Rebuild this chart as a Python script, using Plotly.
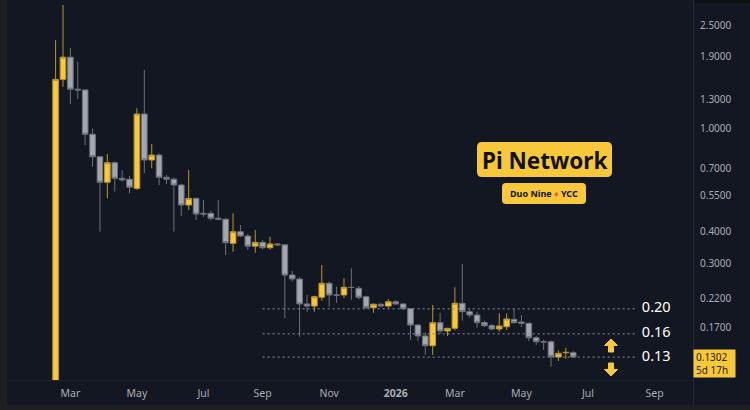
import math
import pandas as pd
import plotly.graph_objects as go

# ---------------- data (weekly candles, Pi Network) ----------------
week_start = "2025-02-17"
n_weeks = 71
dates = pd.date_range(week_start, periods=n_weeks, freq="7D")

opens = [0.07, 1.55, 1.89, 1.42, 1.41, 0.95, 0.777, 0.619, 0.737, 0.641, 0.636, 0.586, 1.138, 0.755,
         0.789, 0.647, 0.636, 0.604, 0.505, 0.536, 0.469, 0.469, 0.449, 0.445, 0.359, 0.398, 0.383,
         0.350, 0.362, 0.345, 0.357, 0.354, 0.2705, 0.261, 0.2089, 0.205, 0.2217, 0.2512, 0.2263,
         0.2263, 0.2423, 0.2402, 0.2229, 0.2020, 0.2083, 0.205, 0.2132, 0.2089, 0.2002, 0.1731,
         0.1570, 0.1439, 0.1768, 0.1641, 0.1681, 0.2101, 0.1950, 0.1893, 0.1768, 0.1720, 0.1671,
         0.1705, 0.1822, 0.1778, 0.1758, 0.1545, 0.1491, 0.1491, 0.1301, 0.1352, 0.1352]
highs = [2.20, 3.01, 2.05, 1.815, 1.42, 1.00, 0.78, 0.796, 0.745, 0.690, 0.654, 1.198, 1.686, 0.871,
         0.80, 0.66, 0.645, 0.61, 0.690, 0.54, 0.528, 0.48, 0.528, 0.45, 0.469, 0.423, 0.39, 0.404,
         0.37, 0.381, 0.36, 0.356, 0.28, 0.265, 0.2263, 0.225, 0.2958, 0.255, 0.2436, 0.2627, 0.2872,
         0.245, 0.225, 0.21, 0.211, 0.218, 0.216, 0.21, 0.201, 0.175, 0.162, 0.2070, 0.1932, 0.167,
         0.2423, 0.2984, 0.20, 0.195, 0.18, 0.175, 0.1922, 0.1922, 0.1997, 0.1893, 0.177, 0.157,
         0.152, 0.151, 0.138, 0.1413, 0.137]
lows = [0.07, 1.45, 1.245, 1.30, 0.863, 0.711, 0.398, 0.536, 0.569, 0.622, 0.561, 0.578, 0.671, 0.701,
        0.604, 0.610, 0.398, 0.458, 0.483, 0.442, 0.455, 0.44, 0.44, 0.323, 0.333, 0.38, 0.338, 0.330,
        0.34, 0.34, 0.35, 0.1838, 0.255, 0.156, 0.195, 0.195, 0.215, 0.2039, 0.2107, 0.22, 0.2164,
        0.218, 0.200, 0.1932, 0.203, 0.202, 0.207, 0.198, 0.1514, 0.150, 0.1325, 0.1325, 0.160, 0.157,
        0.165, 0.18, 0.185, 0.1690, 0.170, 0.165, 0.163, 0.1656, 0.175, 0.17, 0.150, 0.145, 0.1385,
        0.1193, 0.1256, 0.128, 0.129]
closes = [1.55, 1.89, 1.42, 1.41, 0.95, 0.777, 0.619, 0.737, 0.641, 0.632, 0.592, 1.138, 0.755, 0.789,
          0.647, 0.636, 0.604, 0.505, 0.536, 0.466, 0.466, 0.449, 0.445, 0.361, 0.398, 0.383, 0.350,
          0.362, 0.345, 0.357, 0.354, 0.2705, 0.261, 0.2089, 0.205, 0.2229, 0.2512, 0.2263, 0.2260,
          0.2423, 0.2420, 0.2217, 0.2020, 0.2083, 0.205, 0.2132, 0.2089, 0.2002, 0.1731, 0.1570,
          0.1439, 0.1768, 0.1641, 0.1681, 0.2101, 0.1950, 0.1893, 0.1768, 0.1720, 0.1671, 0.1716,
          0.1827, 0.1768, 0.1758, 0.1545, 0.1491, 0.1488, 0.1304, 0.1344, 0.1356, 0.1302]

levels = [0.20, 0.16, 0.13]
level_labels = ["0.20", "0.16", "0.13"]
level_start = "2025-09-01"
level_end = "2026-08-22"
level_label_x = "2026-08-26"

ytick_vals = [2.5, 1.9, 1.3, 1.0, 0.7, 0.55, 0.4, 0.3, 0.22, 0.17]
ytick_text = [f"{v:.4f}" for v in ytick_vals]
xtick_dates = ["2025-03-03", "2025-05-05", "2025-07-07", "2025-09-01", "2025-11-03",
               "2026-01-05", "2026-03-02", "2026-05-04", "2026-07-06", "2026-09-07"]
xtick_text = ["Mar", "May", "Jul", "Sep", "Nov", "<b>2026</b>", "Mar", "May", "Jul", "Sep"]

last_price_label = "0.1302"
countdown_label = "5d 17h"
title_text = "Pi Network"
subtitle_text = "Duo Nine <span style='color:#E8622A'>♦</span> YCC"

# ---------------- styling ----------------
W, H = 750, 410
ML, MR, MT, MB = 7, 57, 0, 29
PW, PH = W - ML - MR, H - MT - MB
BG = "#131722"
YEL = "#F6C83A"
YEL_W = "#B8962E"
GRY = "#A3A6AF"
GRY_W = "#6E717B"
TICK = "#A9ACB5"


def px_x(px):
    return (px - ML) / PW


def px_y(py):
    return (MT + PH - py) / PH


fig = go.Figure()

fig.add_trace(go.Candlestick(
    x=dates, open=opens, high=highs, low=lows, close=closes,
    increasing=dict(fillcolor=YEL, line=dict(color=YEL_W, width=1)),
    decreasing=dict(fillcolor=GRY, line=dict(color=GRY_W, width=1)),
    whiskerwidth=0, showlegend=False, hoverinfo="skip"))

for lv, lab in zip(levels, level_labels):
    fig.add_trace(go.Scatter(
        x=[level_start, level_end], y=[lv, lv], mode="lines",
        line=dict(color="#8E919A", width=1, dash="2px,3px"),
        showlegend=False, hoverinfo="skip"))
    fig.add_trace(go.Scatter(
        x=[level_label_x], y=[lv], mode="text", text=[lab], textposition="middle right",
        textfont=dict(color="#FFFFFF", size=14.5, family="Noto Sans"),
        showlegend=False, hoverinfo="skip"))


def rrect(cx, cy, w, h, r, color):
    a, b = w / 2, h / 2
    path = (f"M {-a + r},{-b} L {a - r},{-b} Q {a},{-b} {a},{-b + r} L {a},{b - r} Q {a},{b} {a - r},{b} "
            f"L {-a + r},{b} Q {-a},{b} {-a},{b - r} L {-a},{-b + r} Q {-a},{-b} {-a + r},{-b} Z")
    return dict(type="path", xref="paper", yref="paper", xsizemode="pixel", ysizemode="pixel",
                xanchor=px_x(cx), yanchor=px_y(cy), path=path, fillcolor=color,
                line=dict(width=0), layer="above")


def block_arrow(cx, cy, up, color):
    s = 1 if up else -1
    pts = [(0, 6.5 * s), (6.5, 0), (2.5, 0), (2.5, -6.5 * s), (-2.5, -6.5 * s), (-2.5, 0), (-6.5, 0)]
    path = "M " + " L ".join(f"{x},{y}" for x, y in pts) + " Z"
    return dict(type="path", xref="paper", yref="paper", xsizemode="pixel", ysizemode="pixel",
                xanchor=px_x(cx), yanchor=px_y(cy), path=path, fillcolor=color,
                line=dict(color=color, width=1), layer="above")


shapes = [
    # frame strips
    dict(type="rect", xref="paper", yref="paper", x0=px_x(0), x1=px_x(ML), y0=px_y(H), y1=px_y(0),
         fillcolor="#1F1F22", line=dict(width=0), layer="above"),
    dict(type="rect", xref="paper", yref="paper", x0=px_x(0), x1=px_x(W), y0=px_y(H), y1=px_y(405),
         fillcolor="#1F1F22", line=dict(width=0), layer="above"),
    dict(type="rect", xref="paper", yref="paper", x0=px_x(694), x1=px_x(W), y0=px_y(3), y1=px_y(0),
         fillcolor="#0E0F12", line=dict(width=0), layer="above"),
    # right price-scale separator
    dict(type="line", xref="paper", yref="paper", x0=px_x(693.5), x1=px_x(693.5), y0=px_y(405), y1=px_y(0),
         line=dict(color="#262A35", width=1)),
    # bottom time-scale separator
    dict(type="line", xref="paper", yref="paper", x0=px_x(ML), x1=px_x(693), y0=px_y(380.5), y1=px_y(380.5),
         line=dict(color="#1E222D", width=1)),
    rrect(544.5, 159.5, 135, 35, 5, YEL),
    rrect(544, 193.5, 84, 21, 4, YEL),
    block_arrow(611, 345.5, True, YEL),
    block_arrow(611, 369.5, False, YEL),
]

annotations = [
    dict(xref="paper", yref="paper", x=px_x(544.5), y=px_y(160), text=f"<b>{title_text}</b>",
         showarrow=False, font=dict(family="Noto Sans", size=22.5, color="#111111"),
         xanchor="center", yanchor="middle"),
    dict(xref="paper", yref="paper", x=px_x(544), y=px_y(193.5), text=f"<b>{subtitle_text}</b>",
         showarrow=False, font=dict(family="Noto Sans", size=9, color="#111111"),
         xanchor="center", yanchor="middle"),
    # last price label
    dict(xref="paper", yref="paper", x=px_x(693), y=px_y(349),
         text=f"{last_price_label}<br>{countdown_label}", showarrow=False, align="left",
         font=dict(family="Noto Sans", size=10, color="#2A2205"), bgcolor=YEL,
         xanchor="left", yanchor="top", width=37, height=23, borderpad=2),
]

y_top = (128.5 - 0) / 258
y_bot = (128.5 - 381) / 258

fig.update_layout(
    width=W, height=H, margin=dict(l=ML, r=MR, t=MT, b=MB),
    paper_bgcolor=BG, plot_bgcolor=BG,
    showlegend=False, boxgap=0.2, boxgroupgap=0.05,
    shapes=shapes, annotations=annotations,
    xaxis=dict(type="date", range=["2025-01-02", "2026-10-13 10:00"], rangeslider=dict(visible=False),
               showgrid=False, zeroline=False, showline=False,
               tickmode="array", tickvals=xtick_dates, ticktext=xtick_text, ticks="",
               tickfont=dict(family="Noto Sans", size=10.5, color=TICK), ticklabelstandoff=4),
    yaxis=dict(type="log", side="right", range=[y_bot, y_top], showgrid=False, zeroline=False,
               showline=False, tickmode="array", tickvals=ytick_vals, ticktext=ytick_text, ticks="",
               tickfont=dict(family="Noto Sans", size=10, color=TICK), ticklabelstandoff=6),
)

fig.write_html("out.html")
